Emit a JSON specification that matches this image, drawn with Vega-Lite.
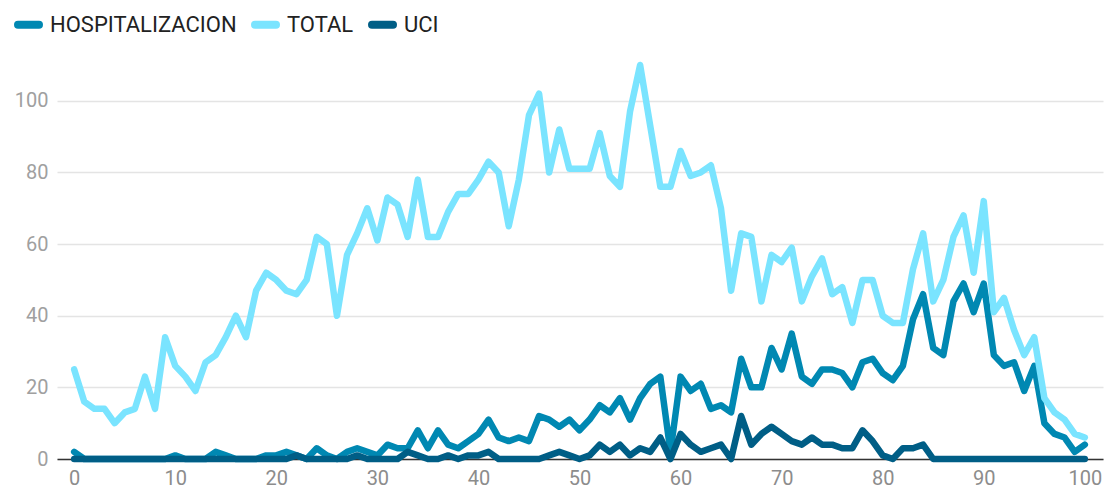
{
  "$schema": "https://vega.github.io/schema/vega-lite/v6.json",
  "width": 1046,
  "height": 394,
  "autosize": {"type": "none"},
  "padding": {"left": 57, "top": 65, "right": 2, "bottom": 30},
  "background": "white",
  "config": {"view": {"stroke": null}, "font": "Roboto"},
  "data": {"values": [
    {"x":0,"HOSPITALIZACION":2,"TOTAL":25,"UCI":0},
    {"x":1,"HOSPITALIZACION":0,"TOTAL":16,"UCI":0},
    {"x":2,"HOSPITALIZACION":0,"TOTAL":14,"UCI":0},
    {"x":3,"HOSPITALIZACION":0,"TOTAL":14,"UCI":0},
    {"x":4,"HOSPITALIZACION":0,"TOTAL":10,"UCI":0},
    {"x":5,"HOSPITALIZACION":0,"TOTAL":13,"UCI":0},
    {"x":6,"HOSPITALIZACION":0,"TOTAL":14,"UCI":0},
    {"x":7,"HOSPITALIZACION":0,"TOTAL":23,"UCI":0},
    {"x":8,"HOSPITALIZACION":0,"TOTAL":14,"UCI":0},
    {"x":9,"HOSPITALIZACION":0,"TOTAL":34,"UCI":0},
    {"x":10,"HOSPITALIZACION":1,"TOTAL":26,"UCI":0},
    {"x":11,"HOSPITALIZACION":0,"TOTAL":23,"UCI":0},
    {"x":12,"HOSPITALIZACION":0,"TOTAL":19,"UCI":0},
    {"x":13,"HOSPITALIZACION":0,"TOTAL":27,"UCI":0},
    {"x":14,"HOSPITALIZACION":2,"TOTAL":29,"UCI":0},
    {"x":15,"HOSPITALIZACION":1,"TOTAL":34,"UCI":0},
    {"x":16,"HOSPITALIZACION":0,"TOTAL":40,"UCI":0},
    {"x":17,"HOSPITALIZACION":0,"TOTAL":34,"UCI":0},
    {"x":18,"HOSPITALIZACION":0,"TOTAL":47,"UCI":0},
    {"x":19,"HOSPITALIZACION":1,"TOTAL":52,"UCI":0},
    {"x":20,"HOSPITALIZACION":1,"TOTAL":50,"UCI":0},
    {"x":21,"HOSPITALIZACION":2,"TOTAL":47,"UCI":0},
    {"x":22,"HOSPITALIZACION":1,"TOTAL":46,"UCI":1},
    {"x":23,"HOSPITALIZACION":0,"TOTAL":50,"UCI":0},
    {"x":24,"HOSPITALIZACION":3,"TOTAL":62,"UCI":0},
    {"x":25,"HOSPITALIZACION":1,"TOTAL":60,"UCI":0},
    {"x":26,"HOSPITALIZACION":0,"TOTAL":40,"UCI":0},
    {"x":27,"HOSPITALIZACION":2,"TOTAL":57,"UCI":0},
    {"x":28,"HOSPITALIZACION":3,"TOTAL":63,"UCI":1},
    {"x":29,"HOSPITALIZACION":2,"TOTAL":70,"UCI":0},
    {"x":30,"HOSPITALIZACION":1,"TOTAL":61,"UCI":0},
    {"x":31,"HOSPITALIZACION":4,"TOTAL":73,"UCI":0},
    {"x":32,"HOSPITALIZACION":3,"TOTAL":71,"UCI":0},
    {"x":33,"HOSPITALIZACION":3,"TOTAL":62,"UCI":2},
    {"x":34,"HOSPITALIZACION":8,"TOTAL":78,"UCI":1},
    {"x":35,"HOSPITALIZACION":3,"TOTAL":62,"UCI":0},
    {"x":36,"HOSPITALIZACION":8,"TOTAL":62,"UCI":0},
    {"x":37,"HOSPITALIZACION":4,"TOTAL":69,"UCI":1},
    {"x":38,"HOSPITALIZACION":3,"TOTAL":74,"UCI":0},
    {"x":39,"HOSPITALIZACION":5,"TOTAL":74,"UCI":1},
    {"x":40,"HOSPITALIZACION":7,"TOTAL":78,"UCI":1},
    {"x":41,"HOSPITALIZACION":11,"TOTAL":83,"UCI":2},
    {"x":42,"HOSPITALIZACION":6,"TOTAL":80,"UCI":0},
    {"x":43,"HOSPITALIZACION":5,"TOTAL":65,"UCI":0},
    {"x":44,"HOSPITALIZACION":6,"TOTAL":78,"UCI":0},
    {"x":45,"HOSPITALIZACION":5,"TOTAL":96,"UCI":0},
    {"x":46,"HOSPITALIZACION":12,"TOTAL":102,"UCI":0},
    {"x":47,"HOSPITALIZACION":11,"TOTAL":80,"UCI":1},
    {"x":48,"HOSPITALIZACION":9,"TOTAL":92,"UCI":2},
    {"x":49,"HOSPITALIZACION":11,"TOTAL":81,"UCI":1},
    {"x":50,"HOSPITALIZACION":8,"TOTAL":81,"UCI":0},
    {"x":51,"HOSPITALIZACION":11,"TOTAL":81,"UCI":1},
    {"x":52,"HOSPITALIZACION":15,"TOTAL":91,"UCI":4},
    {"x":53,"HOSPITALIZACION":13,"TOTAL":79,"UCI":2},
    {"x":54,"HOSPITALIZACION":17,"TOTAL":76,"UCI":4},
    {"x":55,"HOSPITALIZACION":11,"TOTAL":97,"UCI":1},
    {"x":56,"HOSPITALIZACION":17,"TOTAL":110,"UCI":3},
    {"x":57,"HOSPITALIZACION":21,"TOTAL":93,"UCI":2},
    {"x":58,"HOSPITALIZACION":23,"TOTAL":76,"UCI":6},
    {"x":59,"HOSPITALIZACION":2,"TOTAL":76,"UCI":0},
    {"x":60,"HOSPITALIZACION":23,"TOTAL":86,"UCI":7},
    {"x":61,"HOSPITALIZACION":19,"TOTAL":79,"UCI":4},
    {"x":62,"HOSPITALIZACION":21,"TOTAL":80,"UCI":2},
    {"x":63,"HOSPITALIZACION":14,"TOTAL":82,"UCI":3},
    {"x":64,"HOSPITALIZACION":15,"TOTAL":70,"UCI":4},
    {"x":65,"HOSPITALIZACION":13,"TOTAL":47,"UCI":0},
    {"x":66,"HOSPITALIZACION":28,"TOTAL":63,"UCI":12},
    {"x":67,"HOSPITALIZACION":20,"TOTAL":62,"UCI":4},
    {"x":68,"HOSPITALIZACION":20,"TOTAL":44,"UCI":7},
    {"x":69,"HOSPITALIZACION":31,"TOTAL":57,"UCI":9},
    {"x":70,"HOSPITALIZACION":25,"TOTAL":55,"UCI":7},
    {"x":71,"HOSPITALIZACION":35,"TOTAL":59,"UCI":5},
    {"x":72,"HOSPITALIZACION":23,"TOTAL":44,"UCI":4},
    {"x":73,"HOSPITALIZACION":21,"TOTAL":51,"UCI":6},
    {"x":74,"HOSPITALIZACION":25,"TOTAL":56,"UCI":4},
    {"x":75,"HOSPITALIZACION":25,"TOTAL":46,"UCI":4},
    {"x":76,"HOSPITALIZACION":24,"TOTAL":48,"UCI":3},
    {"x":77,"HOSPITALIZACION":20,"TOTAL":38,"UCI":3},
    {"x":78,"HOSPITALIZACION":27,"TOTAL":50,"UCI":8},
    {"x":79,"HOSPITALIZACION":28,"TOTAL":50,"UCI":5},
    {"x":80,"HOSPITALIZACION":24,"TOTAL":40,"UCI":1},
    {"x":81,"HOSPITALIZACION":22,"TOTAL":38,"UCI":0},
    {"x":82,"HOSPITALIZACION":26,"TOTAL":38,"UCI":3},
    {"x":83,"HOSPITALIZACION":39,"TOTAL":53,"UCI":3},
    {"x":84,"HOSPITALIZACION":46,"TOTAL":63,"UCI":4},
    {"x":85,"HOSPITALIZACION":31,"TOTAL":44,"UCI":0},
    {"x":86,"HOSPITALIZACION":29,"TOTAL":50,"UCI":0},
    {"x":87,"HOSPITALIZACION":44,"TOTAL":62,"UCI":0},
    {"x":88,"HOSPITALIZACION":49,"TOTAL":68,"UCI":0},
    {"x":89,"HOSPITALIZACION":41,"TOTAL":52,"UCI":0},
    {"x":90,"HOSPITALIZACION":49,"TOTAL":72,"UCI":0},
    {"x":91,"HOSPITALIZACION":29,"TOTAL":41,"UCI":0},
    {"x":92,"HOSPITALIZACION":26,"TOTAL":45,"UCI":0},
    {"x":93,"HOSPITALIZACION":27,"TOTAL":36,"UCI":0},
    {"x":94,"HOSPITALIZACION":19,"TOTAL":29,"UCI":0},
    {"x":95,"HOSPITALIZACION":26,"TOTAL":34,"UCI":0},
    {"x":96,"HOSPITALIZACION":10,"TOTAL":17,"UCI":0},
    {"x":97,"HOSPITALIZACION":7,"TOTAL":13,"UCI":0},
    {"x":98,"HOSPITALIZACION":6,"TOTAL":11,"UCI":0},
    {"x":99,"HOSPITALIZACION":2,"TOTAL":7,"UCI":0},
    {"x":100,"HOSPITALIZACION":4,"TOTAL":6,"UCI":0}
  ]},
  "transform": [{"fold": ["HOSPITALIZACION", "TOTAL", "UCI"], "as": ["serie", "valor"]}],
  "mark": {"type": "line", "strokeWidth": 6.5, "strokeJoin": "round", "strokeCap": "round"},
  "encoding": {
    "x": {
      "field": "x", "type": "quantitative",
      "scale": {"domain": [-1.7, 101.8], "nice": false, "zero": false},
      "axis": {
        "title": null, "values": [0,10,20,30,40,50,60,70,80,90,100],
        "grid": false, "ticks": false, "domain": true, "domainColor": "#333333", "domainWidth": 1.5,
        "labelColor": "#8c8c8c", "labelFontSize": 20, "labelPadding": 9, "labelFont": "Roboto"
      }
    },
    "y": {
      "field": "valor", "type": "quantitative",
      "scale": {"domain": [0, 110], "nice": false},
      "axis": {
        "title": null, "values": [0,20,40,60,80,100],
        "grid": true, "gridColor": "#e4e4e4", "gridWidth": 1.5,
        "ticks": false, "domain": false,
        "labelColor": "#a0a0a0", "labelFontSize": 20, "labelPadding": 9, "labelFont": "Roboto"
      }
    },
    "color": {
      "field": "serie", "type": "nominal",
      "scale": {"domain": ["HOSPITALIZACION", "TOTAL", "UCI"], "range": ["#0088B2", "#7AE4FF", "#005E86"]},
      "legend": {
        "title": null, "orient": "none", "direction": "horizontal",
        "legendX": -43, "legendY": -55,
        "symbolType": "stroke", "symbolStrokeWidth": 8, "symbolSize": 441,
        "labelFontSize": 22, "labelColor": "#222222", "labelFont": "Roboto", "labelLimit": 400,
        "columnPadding": 2, "labelOffset": 7,
        "encode": {"symbols": {"update": {"strokeCap": {"value": "round"}}}}
      }
    }
  }
}
